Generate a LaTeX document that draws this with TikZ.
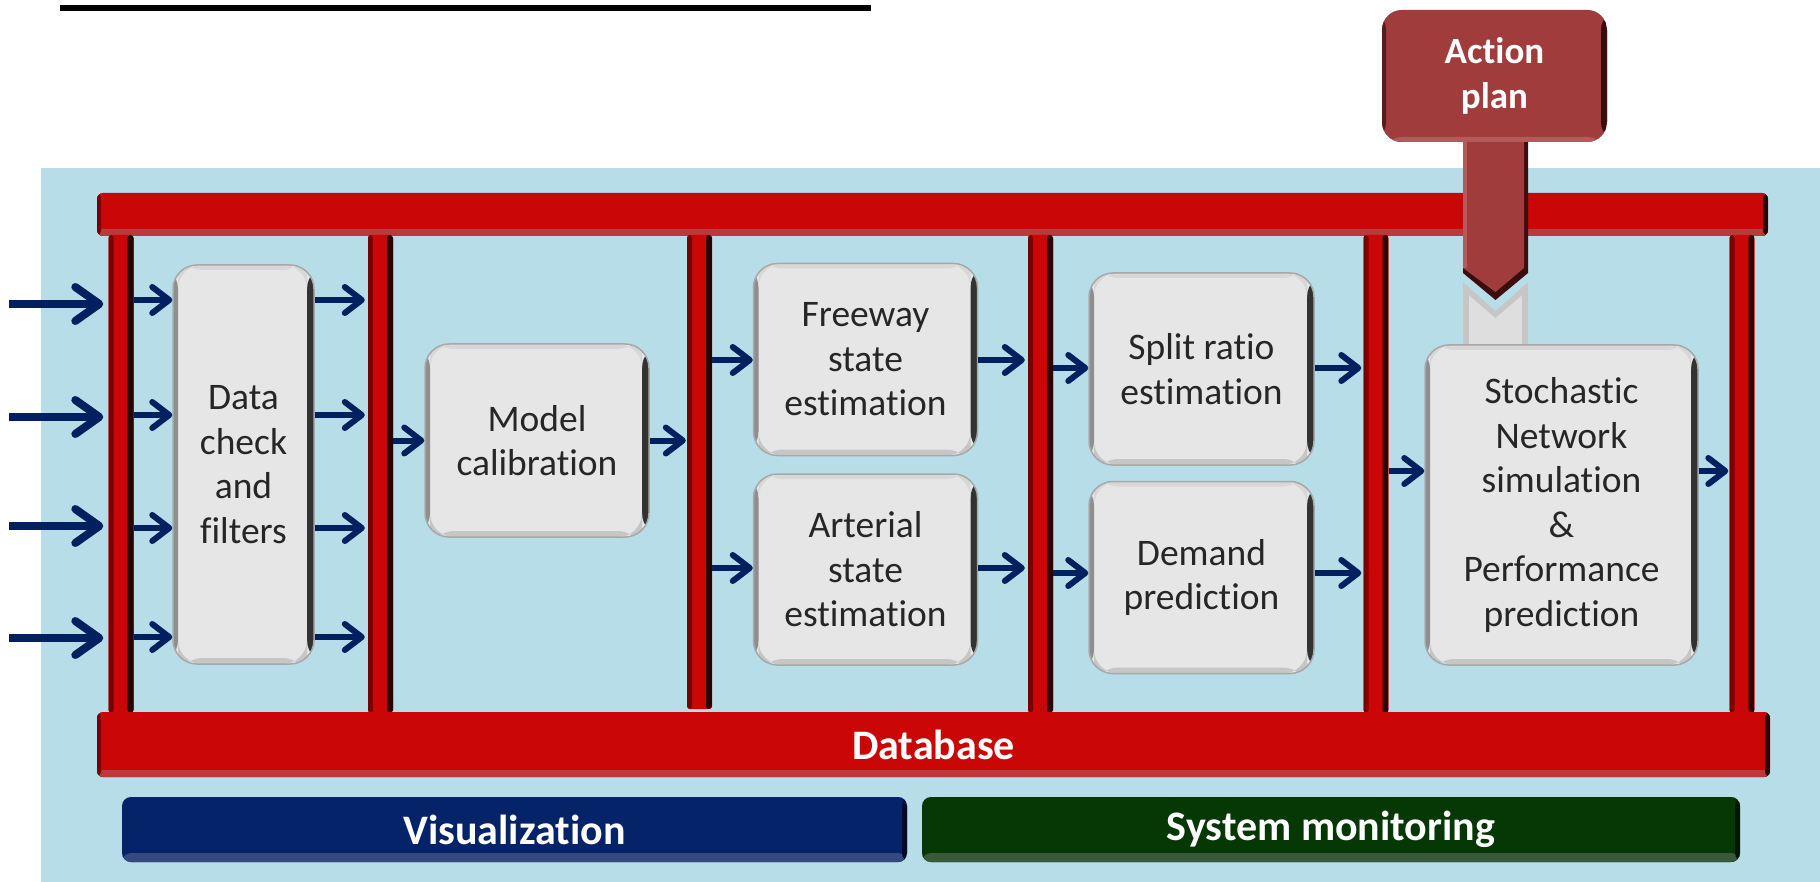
\documentclass[tikz,border=0pt]{standalone}
\usepackage{fontspec}
\setmainfont{Carlito}[Ligatures=CommonOff]
\usetikzlibrary{arrows.meta,calc}

\definecolor{bgblue}{HTML}{B7DDE8}
\definecolor{barred}{HTML}{CA0606}
\definecolor{barlow}{HTML}{B83A3A}
\definecolor{bardark}{HTML}{7A0000}
\definecolor{barblack}{HTML}{2A0000}
\definecolor{boxfill}{HTML}{E6E6E6}
\definecolor{boxedge}{HTML}{A8A8A8}
\definecolor{boxdark}{HTML}{333333}
\definecolor{boxside}{HTML}{8E8E8E}
\definecolor{boxlow}{HTML}{C6C6C6}
\definecolor{navy}{HTML}{002060}
\definecolor{visblue}{HTML}{042368}
\definecolor{vislow}{HTML}{34497E}
\definecolor{visdark}{HTML}{000A24}
\definecolor{sysgreen}{HTML}{063806}
\definecolor{syslow}{HTML}{3A583A}
\definecolor{sysdark}{HTML}{001800}
\definecolor{aplan}{HTML}{A03C3C}
\definecolor{aplandark}{HTML}{3A0E0E}
\definecolor{aplanlow}{HTML}{B45A5A}
\definecolor{notch}{HTML}{DEDEDE}
\definecolor{txtgray}{HTML}{262626}

\tikzset{
  pillar/.style={inner sep=0pt, minimum width=25pt, fill=barred,
    rounded corners=3pt,
    path picture={
      \fill[bardark] (path picture bounding box.south west) rectangle
        ([xshift=5pt]path picture bounding box.north west);
      \fill[barblack] ([xshift=-6pt]path picture bounding box.south east) rectangle
        (path picture bounding box.north east);
    }},
  redbar/.style={inner sep=0pt, fill=barred, rounded corners=6pt,
    font=\fontsize{42}{48}\selectfont\bfseries, text=white,
    path picture={
      \fill[barlow] (path picture bounding box.south west) rectangle
        ([yshift=7pt]path picture bounding box.south east);
      \fill[bardark] (path picture bounding box.south west) rectangle
        ([xshift=4pt]path picture bounding box.north west);
      \fill[barblack] ([xshift=-5pt]path picture bounding box.south east) rectangle
        (path picture bounding box.north east);
    }},
  stepbox/.style={inner sep=0pt, rounded corners=24pt, fill=boxfill,
    draw=boxedge, line width=1.5pt, align=center, text=txtgray,
    font=\fontsize{37.5}{44.5}\selectfont,
    path picture={
      \fill[boxdark] ([xshift=-7pt]path picture bounding box.south east) rectangle
        (path picture bounding box.north east);
      \fill[boxside] (path picture bounding box.south west) rectangle
        ([xshift=5pt]path picture bounding box.north west);
      \fill[boxlow] ([xshift=5pt]path picture bounding box.south west) rectangle
        ([xshift=-7pt,yshift=6pt]path picture bounding box.south east);
      \fill[boxlow!70!white] ([xshift=5pt,yshift=-5pt]path picture bounding box.north west) rectangle
        ([xshift=-7pt]path picture bounding box.north east);
    }},
  panel/.style={inner sep=0pt, rounded corners=9pt, text=white,
    font=\fontsize{42}{48}\selectfont\bfseries},
  bigarrow/.style={draw=navy, line width=8pt,
    -{Straight Barb[length=24pt,width=34pt,round]}},
  smallarrow/.style={draw=navy, line width=6pt,
    -{Straight Barb[length=17pt,width=26pt,round]}},
}

\begin{document}
\begin{tikzpicture}[x=1pt,y=-1pt]
\useasboundingbox (0,0) rectangle (1820,882);

% background panel and heading rule
\fill[bgblue] (41,168) rectangle (1820,882);
\fill[black] (60,5) rectangle (871,11);

% frame: top bar and vertical pillars
\node[redbar, minimum width=1671pt, minimum height=43pt] (top) at (932.5,214.5) {};
\node[pillar, minimum height=478pt] (p1) at (121,474) {};
\node[pillar, minimum height=478pt] (p2) at (380.5,474) {};
\node[pillar, minimum height=474pt] (p3) at (699.5,472) {};
\node[pillar, minimum height=478pt] (p4) at (1040.5,474) {};
\node[pillar, minimum height=478pt] (p5) at (1376,474) {};
\node[pillar, minimum height=478pt] (p6) at (1742,474) {};

% database bar and bottom panels
\node[redbar, minimum width=1673pt, minimum height=65pt] (db) at (933.5,744.5) {Database};
\node[panel, fill=visblue, minimum width=785pt, minimum height=65pt,
  path picture={
    \fill[vislow] (path picture bounding box.south west) rectangle
      ([yshift=9pt]path picture bounding box.south east);
    \fill[visdark] ([xshift=-5pt]path picture bounding box.south east) rectangle
      (path picture bounding box.north east);
  }] (vis) at (514.5,829.5) {Visualization};
\node[panel, fill=sysgreen, minimum width=818pt, minimum height=65pt,
  path picture={
    \fill[syslow] (path picture bounding box.south west) rectangle
      ([yshift=9pt]path picture bounding box.south east);
    \fill[sysdark] ([xshift=-5pt]path picture bounding box.south east) rectangle
      (path picture bounding box.north east);
  }] (sys) at (1331,829.5) {System monitoring};

% light notch below the action-plan arrow
\fill[notch] (1463,282) -- (1495.5,311) -- (1528,282) -- (1528,348) -- (1463,348) -- cycle;
\fill[boxlow] (1463,282) -- (1495.5,311) -- (1528,282) -- (1528,290) -- (1495.5,318) -- (1463,290) -- cycle;
\fill[boxlow] (1463,290) rectangle (1469,348);
\fill[boxlow] (1522,290) rectangle (1528,348);

% processing steps
\node[stepbox, minimum width=141pt, minimum height=399pt] (data) at (243.5,464.5)
  {Data\\check\\and\\filters};
\node[stepbox, minimum width=224pt, minimum height=193pt] (model) at (537,440.5)
  {Model\\calibration};
\node[stepbox, minimum width=224pt, minimum height=192pt] (free) at (865.5,359.5)
  {Freeway\\state\\estimation};
\node[stepbox, minimum width=224pt, minimum height=191pt] (art) at (865.5,569.5)
  {Arterial\\state\\estimation};
\node[stepbox, minimum width=225pt, minimum height=192pt] (split) at (1201.5,369)
  {Split ratio\\estimation};
\node[stepbox, minimum width=225pt, minimum height=192pt] (dem) at (1201.5,577.5)
  {Demand\\prediction};
\node[stepbox, minimum width=273pt, minimum height=320pt] (sim) at (1561.5,505)
  {Stochastic\\Network\\simulation\\\&\\Performance\\prediction};

% incoming data feeds
\foreach \y [count=\i] in {304,417,526,638} {
  \coordinate (in\i) at (9,\y);
  \draw[bigarrow] (in\i) -- ([xshift=-5pt]p1.west |- in\i);
}

% pillar 1 -> data check -> pillar 2
\foreach \y in {300,415,528,637} {
  \draw[smallarrow] (p1.east |- 0,\y) -- (data.west |- 0,\y);
  \draw[smallarrow] (data.east |- 0,\y) -- ([xshift=-3pt]p2.west |- 0,\y);
}

% calibration
\draw[smallarrow] (p2.east |- model.west) -- (model.west);
\draw[smallarrow] (model.east) -- ([xshift=-1pt]p3.west |- model.east);

% state estimation
\draw[smallarrow] (p3.east |- 0,360) -- (free.west |- 0,360);
\draw[smallarrow] (p3.east |- 0,568) -- (art.west |- 0,568);
\draw[smallarrow] (free.east |- 0,360) -- ([xshift=-3pt]p4.west |- 0,360);
\draw[smallarrow] (art.east |- 0,568) -- ([xshift=-3pt]p4.west |- 0,568);

% prediction
\draw[smallarrow] (p4.east |- 0,368) -- (split.west |- 0,368);
\draw[smallarrow] (p4.east |- 0,573) -- (dem.west |- 0,573);
\draw[smallarrow] (split.east |- 0,368) -- ([xshift=-2pt]p5.west |- 0,368);
\draw[smallarrow] (dem.east |- 0,573) -- ([xshift=-2pt]p5.west |- 0,573);

% simulation
\draw[smallarrow] (p5.east |- 0,471) -- (sim.west |- 0,471);
\draw[smallarrow] (sim.east |- 0,471) -- ([xshift=-1pt]p6.west |- 0,471);

% action plan and its arrow into the simulation
\node[panel, fill=aplan, rounded corners=20pt, minimum width=225pt, minimum height=132pt,
  align=center, font=\fontsize{37}{45}\selectfont\bfseries,
  path picture={
    \fill[aplandark] ([xshift=-6pt]path picture bounding box.south east) rectangle
      (path picture bounding box.north east);
    \fill[aplanlow] (path picture bounding box.south west) rectangle
      ([yshift=5pt]path picture bounding box.south east);
    \fill[aplandark!70!aplan] (path picture bounding box.south west) rectangle
      ([xshift=4pt]path picture bounding box.north west);
  }] (ap) at (1494.5,76) {Action\\plan};
\coordinate (aptip) at (1495.5,300);
\fill[aplandark] (ap.south -| 1463,0) -- (ap.south -| 1528,0) -- (1528,273) -- (aptip) -- (1463,273) -- cycle;
\fill[aplan] (ap.south -| 1463,0) -- (ap.south -| 1524,0) -- (1524,268) -- ($(aptip)+(0,-8)$) -- (1463,268) -- cycle;
\fill[aplanlow] (ap.south -| 1463,0) rectangle (1467,268);
\end{tikzpicture}
\end{document}
